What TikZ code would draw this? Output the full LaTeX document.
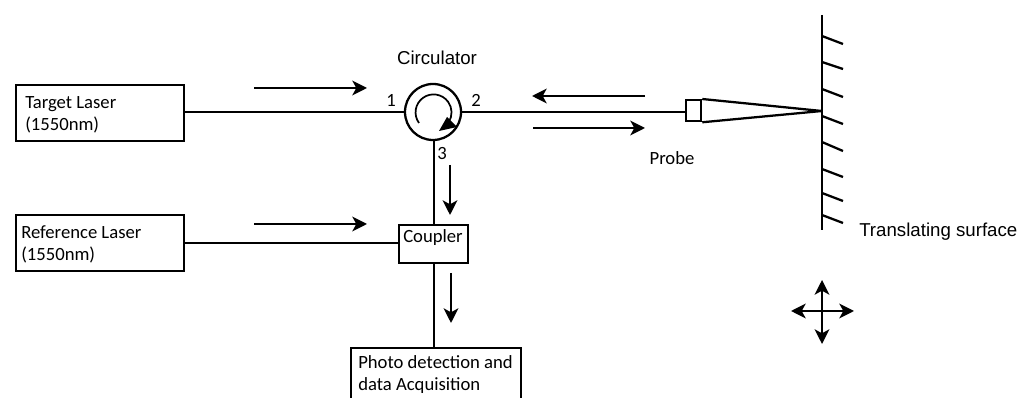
\documentclass[tikz,border=0pt]{standalone}
\usepackage{fontspec}
\setmainfont{Carlito}
\newfontfamily\arialf{Liberation Sans}
\usetikzlibrary{arrows.meta}
\tikzset{
  x=0.75pt,y=-0.75pt,
  box/.style={draw=black,line width=1.7pt,rectangle,inner sep=0pt,anchor=north west},
  wire/.style={draw=black,line width=1.7pt},
  flow/.style={draw=black,line width=1.7pt,-{Stealth[length=11pt,width=11pt,inset=3pt]}},
  hatch/.style={draw=black,line width=1.7pt},
  lab/.style={font=\fontsize{14pt}{16.5pt}\selectfont,align=left,anchor=west,inner sep=0pt},
  arlab/.style={font=\arialf\fontsize{14pt}{16.5pt}\selectfont,inner sep=0pt},
}
\begin{document}
\begin{tikzpicture}
\useasboundingbox (0,0) rectangle (1018,398);
\begin{scope}
\clip (0,0) rectangle (1018,398);
\node[box,minimum width=126pt,minimum height=42pt] (target) at (15,84) {};
\node[box,minimum width=126pt,minimum height=42pt] (ref) at (15,214) {};
\node[box,minimum width=51.75pt,minimum height=28.5pt] (coupler) at (398,224) {};
\node[box,minimum width=127.5pt,minimum height=45pt] (photo) at (350,347) {};
\node[draw=black,line width=1.7pt,circle,minimum size=42pt,inner sep=0pt] (circ) at (433,112) {};
\node[box,minimum width=11.25pt,minimum height=15.75pt] (probe) at (685,99) {};
\coordinate (tip) at (822,111);
\coordinate (walltop) at (822,15);
\coordinate (wallbot) at (822,230);

\draw[wire] (target.east |- circ.west) -- (circ.west);
\draw[wire] (circ.east) -- (probe.west |- circ.east);
\draw[wire] (ref.east |- 0,243) -- (coupler.west |- 0,243);
\draw[wire] (circ.south -| 434,0) -- (coupler.north -| 434,0);
\draw[wire] (coupler.south -| 434,0) -- (photo.north -| 434,0);
\draw[wire,line join=miter] (probe.north east) -- (tip) -- (probe.south east);
\draw[wire] (walltop) -- (wallbot);
\foreach \a/\b in {36/44,62/69,89/97,116/124,142/151,169/177,193/201,215/223}
  \draw[hatch] (822,\a) -- (843,\b);

\draw[line width=1.3pt] (419,123) arc[start angle=144,end angle=393,radius=18];
\fill (447,117) -- (457,127) -- (439,131) -- cycle;

\draw[flow] (254,88) -- (367,88);
\draw[flow] (254,224) -- (367,224);
\draw[flow] (645,96) -- (532,96);
\draw[flow] (533,128) -- (645,128);
\draw[flow] (450,165) -- (450,215);
\draw[flow] (451,273) -- (451,323);
\draw[flow] (822,311) -- (791,311);
\draw[flow] (822,311) -- (854,311);
\draw[flow] (822,311) -- (822,280);
\draw[flow] (822,311) -- (822,344);
\end{scope}

\node[lab] (t1) at (25,115) {Target Laser\\(1550nm)};
\node[lab] (t2) at (21,244) {Reference Laser\\(1550nm)};
\node[lab,anchor=center] (t3) at (433,238) {Coupler};
\node[lab] (t4) at (358,375) {Photo detection and\\data Acquisition};
\node[arlab] (t5) at (437,58) {Circulator};
\node[lab,anchor=center] (t6) at (391,100) {1};
\node[lab,anchor=center] (t7) at (476,100) {2};
\node[lab,anchor=center] (t8) at (442,154) {3};
\node[lab,anchor=center] (t9) at (672,158) {Probe};
\node[arlab,anchor=west] (t10) at (859,232) {Translating surface};
\end{tikzpicture}
\end{document}
